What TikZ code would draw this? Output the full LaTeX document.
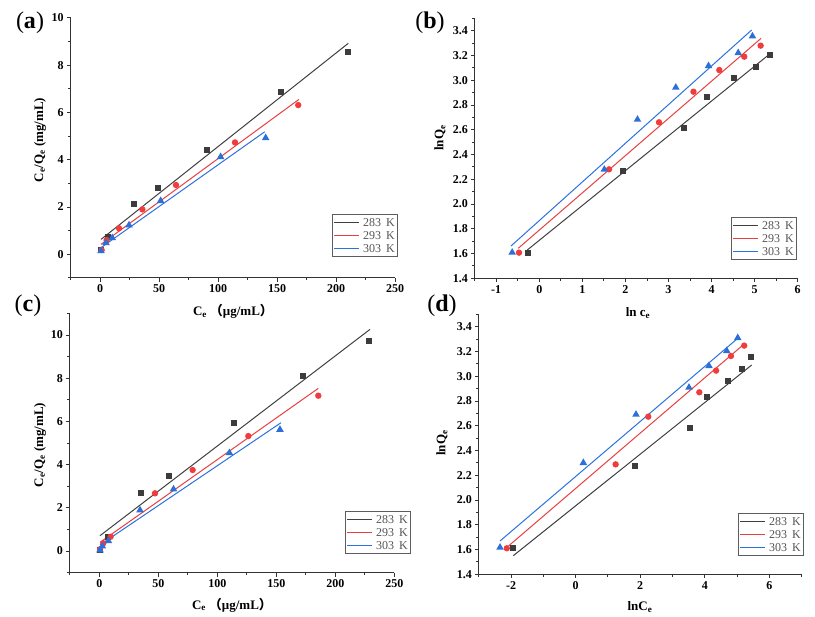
\documentclass[tikz,border=0pt]{standalone}
\usepackage{fontspec}
\setmainfont{Liberation Serif}
\newfontfamily\cjk{Noto Sans CJK SC}
\usepackage{tikz}
\definecolor{axgray}{HTML}{333333}
\definecolor{mk}{HTML}{3C3C3C}
\definecolor{mr}{HTML}{F03C3C}
\definecolor{mb}{HTML}{2D6FD8}
\definecolor{lk}{HTML}{404040}
\definecolor{lr}{HTML}{E84040}
\definecolor{lb}{HTML}{2A72DE}
\definecolor{leggray}{HTML}{555555}
\tikzset{
  axline/.style={draw=axgray,line width=0.9pt},
  ticklab/.style={font=\fontsize{12}{13}\selectfont\bfseries,inner sep=2.5pt,text=black},
  axtitle/.style={font=\fontsize{13}{15}\selectfont\bfseries,inner sep=0pt},
  paneltag/.style={font=\fontsize{24}{26}\selectfont,inner sep=0pt},
  fitk/.style={draw=lk,line width=1pt},
  fitr/.style={draw=lr,line width=1pt},
  fitb/.style={draw=lb,line width=1pt},
  sqmark/.style={fill=mk},
  dotmark/.style={fill=mr},
  trimark/.style={fill=mb},
  legbox/.style={draw=axgray!80,line width=0.7pt,fill=white},
  legtext/.style={font=\fontsize{12}{13}\selectfont,text=leggray,inner sep=0pt,anchor=west}
}
\begin{document}
\begin{tikzpicture}[x=1pt,y=1pt]
\useasboundingbox (0,0) rectangle (815,-617);

\begin{scope}[shift={(100pt,-254.3pt)},x=1.18pt,y=23.65pt]
\draw[axline] (-25,-1) -- (250,-1);
\draw[axline] (-25,-1) -- (-25,10);
\foreach \v [count=\i] in {0,50,...,250} \draw[axline] (\v,-1) -- ++(0,-4pt) node[below,ticklab] (ax\i) {\v};
\foreach \v in {-25,25,75,...,225} \draw[axline] (\v,-1) -- ++(0,-2.5pt);
\foreach \v [count=\i] in {0,2,...,10} \draw[axline] (-25,\v) -- ++(-4pt,0) node[left,ticklab] (ay\i) {\v};
\foreach \v in {-1,1,3,...,9} \draw[axline] (-25,\v) -- ++(-2.5pt,0);
\draw[fitk] (0.85,0.63) -- (210.4,8.92);
\draw[fitr] (0.85,0.42) -- (168.6,6.55);
\draw[fitb] (0,0.25) -- (139.6,5.18);
\foreach \p in {(0.85,0.18),(7.06,0.72),(29.1,2.13),(49.4,2.79),(90.4,4.41),(153.4,6.85),(209.9,8.54)}
  \fill[sqmark] \p ++(-3pt,-3pt) rectangle ++(6pt,6pt);
\foreach \p in {(1.4,0.18),(5.6,0.6),(16.1,1.10),(35.9,1.90),(64.4,2.93),(114.4,4.73),(168,6.31)}
  \fill[dotmark] \p circle (3.2pt);
\foreach \p in {(0.85,0.15),(5.1,0.49),(10.4,0.70),(24.6,1.24),(51.4,2.27),(102.2,4.13),(140.4,4.93)}
  \fill[trimark] \p ++(0,4.2pt) -- ++(-3.8pt,-6.6pt) -- ++(7.6pt,0) -- cycle;
\end{scope}

\begin{scope}[shift={(539.3pt,-451.6pt)},x=43.06pt,y=123.8pt]
\draw[axline] (-1.5,1.4) -- (6,1.4);
\draw[axline] (-1.5,1.4) -- (-1.5,3.5);
\foreach \v [count=\i] in {-1,0,1,2,3,4,5,6} \draw[axline] (\v,1.4) -- ++(0,-4pt) node[below,ticklab] (bx\i) {\v};
\foreach \v in {-1.5,-0.5,0.5,1.5,2.5,3.5,4.5,5.5} \draw[axline] (\v,1.4) -- ++(0,-2.5pt);
\foreach \v [count=\i] in {1.4,1.6,1.8,2.0,2.2,2.4,2.6,2.8,3.0,3.2,3.4} \draw[axline] (-1.5,\v) -- ++(-4pt,0) node[left,ticklab] (by\i) {\v};
\foreach \v in {1.5,1.7,1.9,2.1,2.3,2.5,2.7,2.9,3.1,3.3,3.5} \draw[axline] (-1.5,\v) -- ++(-2.5pt,0);
\draw[fitk] (-0.28,1.628) -- (5.37,3.217);
\draw[fitr] (-0.49,1.642) -- (5.15,3.338);
\draw[fitb] (-0.66,1.66) -- (4.93,3.405);
\foreach \p in {(-0.255,1.607),(1.95,2.269),(3.37,2.611),(3.90,2.867),(4.52,3.02),(5.03,3.109),(5.36,3.204)}
  \fill[sqmark] \p ++(-3pt,-3pt) rectangle ++(6pt,6pt);
\foreach \p in {(-0.471,1.607),(1.62,2.28),(2.78,2.66),(3.58,2.907),(4.18,3.082),(4.76,3.19),(5.14,3.279)}
  \fill[dotmark] \p circle (3.2pt);
\foreach \p in {(-0.63,1.61),(1.51,2.28),(2.28,2.684),(3.17,2.943),(3.93,3.117),(4.62,3.222),(4.95,3.357)}
  \fill[trimark] \p ++(0,4.2pt) -- ++(-3.8pt,-6.6pt) -- ++(7.6pt,0) -- cycle;
\end{scope}

\begin{scope}[shift={(99.3pt,-551pt)},x=1.18pt,y=21.6pt]
\draw[axline] (-25,-1) -- (250,-1);
\draw[axline] (-25,-1) -- (-25,11);
\foreach \v [count=\i] in {0,50,...,250} \draw[axline] (\v,-1) -- ++(0,-4pt) node[below,ticklab] (cx\i) {\v};
\foreach \v in {-25,25,75,...,225} \draw[axline] (\v,-1) -- ++(0,-2.5pt);
\foreach \v [count=\i] in {0,2,...,10} \draw[axline] (-25,\v) -- ++(-4pt,0) node[left,ticklab] (cy\i) {\v};
\foreach \v in {-1,1,3,...,11} \draw[axline] (-25,\v) -- ++(-2.5pt,0);
\draw[fitk] (0.6,0.71) -- (229.4,10.26);
\draw[fitr] (0.6,0.40) -- (185.6,7.53);
\draw[fitb] (0.6,0.28) -- (154,5.94);
\foreach \p in {(0.6,0.06),(7.7,0.66),(35.3,2.67),(59.3,3.47),(114.4,5.91),(172.9,8.12),(228.8,9.74)}
  \fill[sqmark] \p ++(-3pt,-3pt) rectangle ++(6pt,6pt);
\foreach \p in {(0.6,0.08),(3.4,0.36),(9.6,0.66),(47.2,2.67),(79.1,3.75),(126.3,5.32),(185.6,7.19)}
  \fill[dotmark] \p circle (3.2pt);
\foreach \p in {(0.6,0.05),(2.6,0.23),(7.7,0.48),(34.5,1.9),(62.9,2.87),(110.3,4.55),(153.1,5.63)}
  \fill[trimark] \p ++(0,4.2pt) -- ++(-3.8pt,-6.6pt) -- ++(7.6pt,0) -- cycle;
\end{scope}

\begin{scope}[shift={(575.6pt,-747.6pt)},x=32.3pt,y=123.8pt]
\draw[axline] (-3,1.4) -- (7,1.4);
\draw[axline] (-3,1.4) -- (-3,3.5);
\foreach \v [count=\i] in {-2,0,2,4,6} \draw[axline] (\v,1.4) -- ++(0,-4pt) node[below,ticklab] (dx\i) {\v};
\foreach \v in {-3,-1,1,3,5,7} \draw[axline] (\v,1.4) -- ++(0,-2.5pt);
\foreach \v [count=\i] in {1.4,1.6,1.8,2.0,2.2,2.4,2.6,2.8,3.0,3.2,3.4} \draw[axline] (-3,\v) -- ++(-4pt,0) node[left,ticklab] (dy\i) {\v};
\foreach \v in {1.5,1.7,1.9,2.1,2.3,2.5,2.7,2.9,3.1,3.3,3.5} \draw[axline] (-3,\v) -- ++(-2.5pt,0);
\draw[fitk] (-1.93,1.55) -- (5.45,3.09);
\draw[fitr] (-2.08,1.628) -- (5.22,3.26);
\draw[fitb] (-2.34,1.669) -- (5.02,3.306);
\foreach \p in {(-1.93,1.61),(1.84,2.275),(3.54,2.584),(4.06,2.835),(4.71,2.961),(5.14,3.058),(5.42,3.158)}
  \fill[sqmark] \p ++(-3pt,-3pt) rectangle ++(6pt,6pt);
\foreach \p in {(-2.13,1.61),(1.24,2.288),(2.25,2.673),(3.83,2.87),(4.35,3.045),(4.81,3.163),(5.22,3.247)}
  \fill[dotmark] \p circle (3.2pt);
\foreach \p in {(-2.34,1.618),(0.24,2.302),(1.87,2.692),(3.51,2.91),(4.13,3.085),(4.68,3.206),(5.02,3.311)}
  \fill[trimark] \p ++(0,4.2pt) -- ++(-3.8pt,-6.6pt) -- ++(7.6pt,0) -- cycle;
\end{scope}

\foreach \lx/\ly/\nm in {332/214/a,731/217/b,345/511/c,738/513/d}{
  \draw[legbox] (\lx pt,-\ly pt) rectangle ++(65pt,-42pt);
  \foreach \t/\c [count=\j] in {283/fitk,293/fitr,303/fitb}{
    \draw[\c] (\lx pt+2pt,-\ly pt-\j*13pt+4.5pt) -- ++(25pt,0);
    \node[legtext] (leg\nm\j) at (\lx pt+31pt,-\ly pt-\j*13pt+4.5pt) {\t\hspace{5pt}K};
  }
}

\node[paneltag] (taga) at (30,-23) {(\textbf{a})};
\node[paneltag] (tagb) at (430,-23) {(\textbf{b})};
\node[paneltag] (tagc) at (28,-306) {(\textbf{c})};
\node[paneltag] (tagd) at (442,-306) {(\textbf{d})};

\node[axtitle,rotate=90] (ya) at (40,-140) {C\textsubscript{e}/Q\textsubscript{e} (mg/mL)};
\node[axtitle] (xa) at (233,-311.7) {C\textsubscript{e}\hspace{3pt}{\cjk （}μg/mL{\cjk ）}};
\node[axtitle,rotate=90] (yb) at (440,-138) {lnQ\textsubscript{e}};
\node[axtitle] (xb) at (638,-313) {ln c\textsubscript{e}};
\node[axtitle,rotate=90] (yc) at (40,-445) {C\textsubscript{e}/Q\textsubscript{e} (mg/mL)};
\node[axtitle] (xc) at (232,-605) {C\textsubscript{e}\hspace{3pt}{\cjk （}μg/mL{\cjk ）}};
\node[axtitle,rotate=90] (yd) at (442,-443) {lnQ\textsubscript{e}};
\node[axtitle] (xd) at (640,-607) {lnC\textsubscript{e}};
\end{tikzpicture}
\end{document}
